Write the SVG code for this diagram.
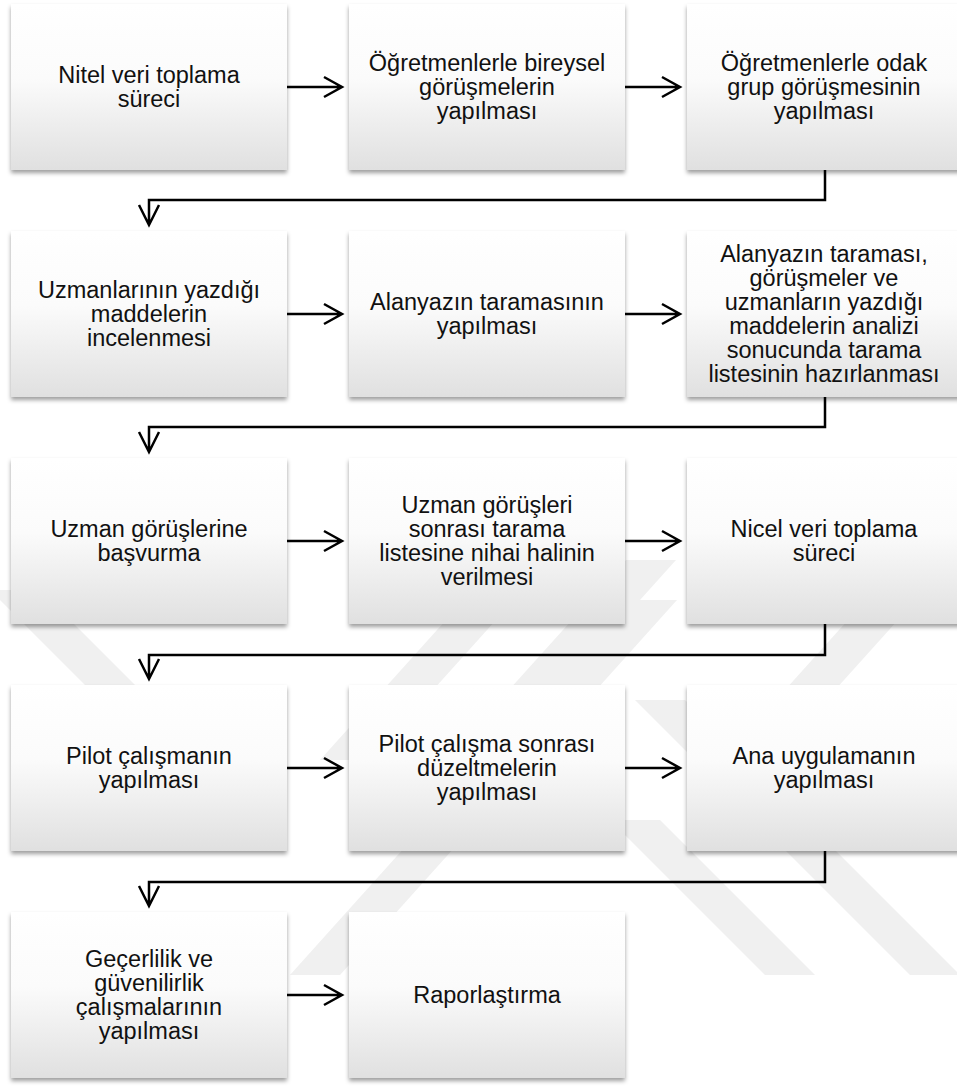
<svg xmlns="http://www.w3.org/2000/svg" width="957" height="1089" viewBox="0 0 957 1089">
<defs>
<linearGradient id="g" x1="0" y1="0" x2="0" y2="1">
<stop offset="0" stop-color="#ffffff"/>
<stop offset="0.45" stop-color="#fbfbfb"/>
<stop offset="1" stop-color="#e0e0e0"/>
</linearGradient>
<filter id="sh" x="-5%" y="-5%" width="110%" height="115%">
<feDropShadow dx="0" dy="3" stdDeviation="2.2" flood-color="#000" flood-opacity="0.38"/>
</filter>
<style>
.box{fill:url(#g);filter:url(#sh);}
.t{font-family:"Liberation Sans",Arial,sans-serif;font-size:23.5px;font-weight:400;fill:#111;text-anchor:middle;}
.c{fill:none;stroke:#000;stroke-width:2.5;}
.wm{fill:#f0f0f0;}
</style>
</defs>
<rect width="957" height="1089" fill="#fff"/>
<g id="watermark">
<polygon class="wm" points="-10,590 40,590 210,760 160,760"/>
<polygon class="wm" points="626,560 676,560 496,760 446,760"/>
<polygon class="wm" points="500,560 550,560 370,760 320,760"/>
<polygon class="wm" points="902,560 952,560 772,760 722,760"/>
<polygon class="wm" points="627,600 677,600 340,975 290,975"/>
<polygon class="wm" points="610,820 660,820 815,975 765,975"/>
<polygon class="wm" points="635,700 685,700 960,975 910,975"/>
</g>
<g id="connectors">
<path class="c" d="M287,87 H342 M324,77 L342,87 L324,97"/>
<path class="c" d="M625,87 H680 M662,77 L680,87 L662,97"/>
<path class="c" d="M825,170 V200 H149 V225 M139,205 L149,225 L159,205"/>
<path class="c" d="M287,314 H342 M324,304 L342,314 L324,324"/>
<path class="c" d="M625,314 H680 M662,304 L680,314 L662,324"/>
<path class="c" d="M825,397 V427 H149 V452 M139,432 L149,452 L159,432"/>
<path class="c" d="M287,541 H342 M324,531 L342,541 L324,551"/>
<path class="c" d="M625,541 H680 M662,531 L680,541 L662,551"/>
<path class="c" d="M825,624 V655 H149 V679 M139,659 L149,679 L159,659"/>
<path class="c" d="M287,768 H342 M324,758 L342,768 L324,778"/>
<path class="c" d="M625,768 H680 M662,758 L680,768 L662,778"/>
<path class="c" d="M825,851 V882 H149 V906 M139,886 L149,906 L159,886"/>
<path class="c" d="M287,995 H342 M324,985 L342,995 L324,1005"/>
</g>
<g id="n1"><rect class="box" x="11" y="4" width="276" height="166"/>
<text class="t"><tspan x="149" y="82.5">Nitel veri toplama</tspan><tspan x="149" y="106.5">süreci</tspan></text></g>
<g id="n2"><rect class="box" x="349" y="4" width="276" height="166"/>
<text class="t"><tspan x="487" y="70.5">Öğretmenlerle bireysel</tspan><tspan x="487" y="94.5">görüşmelerin</tspan><tspan x="487" y="118.5">yapılması</tspan></text></g>
<g id="n3"><rect class="box" x="687" y="4" width="276" height="166"/>
<text class="t"><tspan x="824" y="70.5">Öğretmenlerle odak</tspan><tspan x="824" y="94.5">grup görüşmesinin</tspan><tspan x="824" y="118.5">yapılması</tspan></text></g>
<g id="n4"><rect class="box" x="11" y="231" width="276" height="166"/>
<text class="t"><tspan x="149" y="297.5">Uzmanlarının yazdığı</tspan><tspan x="149" y="321.5">maddelerin</tspan><tspan x="149" y="345.5">incelenmesi</tspan></text></g>
<g id="n5"><rect class="box" x="349" y="231" width="276" height="166"/>
<text class="t"><tspan x="487" y="309.5">Alanyazın taramasının</tspan><tspan x="487" y="333.5">yapılması</tspan></text></g>
<g id="n6"><rect class="box" x="687" y="231" width="276" height="166"/>
<text class="t"><tspan x="824" y="261.5">Alanyazın taraması,</tspan><tspan x="824" y="285.5">görüşmeler ve</tspan><tspan x="824" y="309.5">uzmanların yazdığı</tspan><tspan x="824" y="333.5">maddelerin analizi</tspan><tspan x="824" y="357.5">sonucunda tarama</tspan><tspan x="824" y="381.5">listesinin hazırlanması</tspan></text></g>
<g id="n7"><rect class="box" x="11" y="458" width="276" height="166"/>
<text class="t"><tspan x="149" y="536.5">Uzman görüşlerine</tspan><tspan x="149" y="560.5">başvurma</tspan></text></g>
<g id="n8"><rect class="box" x="349" y="458" width="276" height="166"/>
<text class="t"><tspan x="487" y="512.5">Uzman görüşleri</tspan><tspan x="487" y="536.5">sonrası tarama</tspan><tspan x="487" y="560.5">listesine nihai halinin</tspan><tspan x="487" y="584.5">verilmesi</tspan></text></g>
<g id="n9"><rect class="box" x="687" y="458" width="276" height="166"/>
<text class="t"><tspan x="824" y="536.5">Nicel veri toplama</tspan><tspan x="824" y="560.5">süreci</tspan></text></g>
<g id="n10"><rect class="box" x="11" y="685" width="276" height="166"/>
<text class="t"><tspan x="149" y="763.5">Pilot çalışmanın</tspan><tspan x="149" y="787.5">yapılması</tspan></text></g>
<g id="n11"><rect class="box" x="349" y="685" width="276" height="166"/>
<text class="t"><tspan x="487" y="751.5">Pilot çalışma sonrası</tspan><tspan x="487" y="775.5">düzeltmelerin</tspan><tspan x="487" y="799.5">yapılması</tspan></text></g>
<g id="n12"><rect class="box" x="687" y="685" width="276" height="166"/>
<text class="t"><tspan x="824" y="763.5">Ana uygulamanın</tspan><tspan x="824" y="787.5">yapılması</tspan></text></g>
<g id="n13"><rect class="box" x="11" y="912" width="276" height="166"/>
<text class="t"><tspan x="149" y="966.5">Geçerlilik ve</tspan><tspan x="149" y="990.5">güvenilirlik</tspan><tspan x="149" y="1014.5">çalışmalarının</tspan><tspan x="149" y="1038.5">yapılması</tspan></text></g>
<g id="n14"><rect class="box" x="349" y="912" width="276" height="166"/>
<text class="t"><tspan x="487" y="1002.5">Raporlaştırma</tspan></text></g>
</svg>
